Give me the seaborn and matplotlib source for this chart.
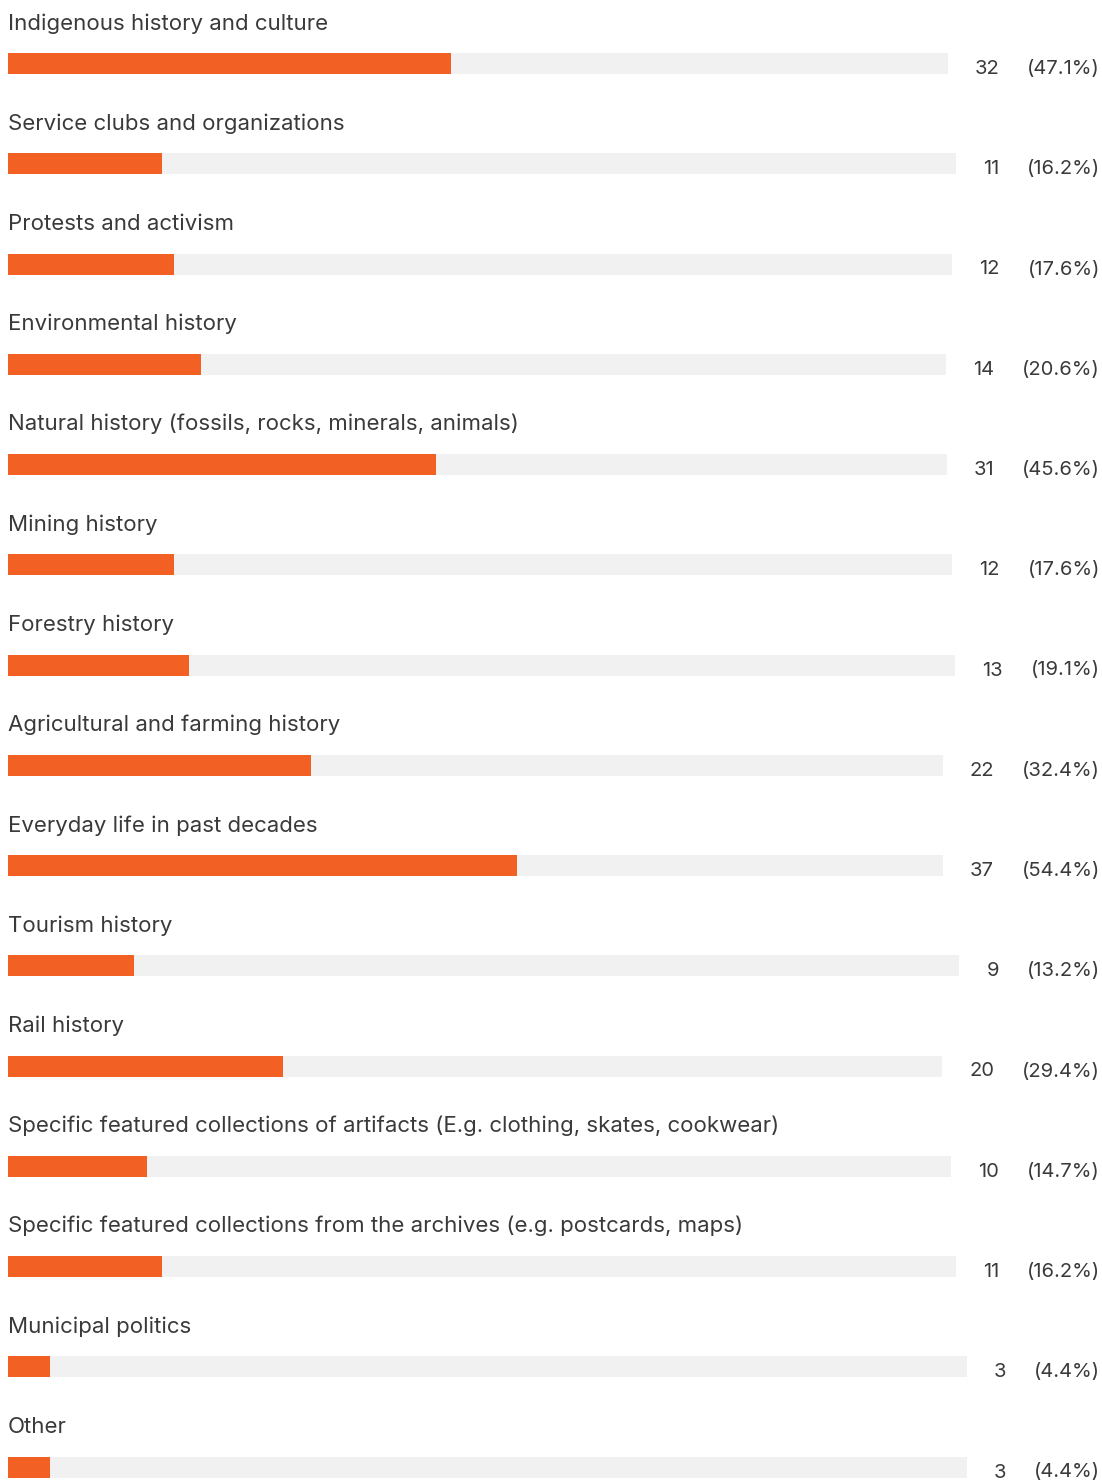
import matplotlib
matplotlib.use("Agg")
import matplotlib.pyplot as plt
import seaborn as sns
import pandas as pd
import numpy as np

categories = [
    "Indigenous history and culture",
    "Service clubs and organizations",
    "Protests and activism",
    "Environmental history",
    "Natural history (fossils, rocks, minerals, animals)",
    "Mining history",
    "Forestry history",
    "Agricultural and farming history",
    "Everyday life in past decades",
    "Tourism history",
    "Rail history",
    "Specific featured collections of artifacts (E.g. clothing, skates, cookwear)",
    "Specific featured collections from the archives (e.g. postcards, maps)",
    "Municipal politics",
    "Other",
]
counts = [32, 11, 12, 14, 31, 12, 13, 22, 37, 9, 20, 10, 11, 3, 3]
percents = [47.1, 16.2, 17.6, 20.6, 45.6, 17.6, 19.1, 32.4, 54.4, 13.2, 29.4, 14.7, 16.2, 4.4, 4.4]

BAR_COLOR = "#F26024"
TRACK_COLOR = "#F1F1F1"
TEXT_COLOR = "#3A3A3A"
FONT = ["Inter", "DejaVu Sans"]

sns.set_theme(style="white")
plt.rcParams["font.family"] = FONT

W, H = 1102, 1480
fig = plt.figure(figsize=(W / 100, H / 100), dpi=100)
ax = fig.add_axes([0, 0, 1, 1])
ax.set_axis_off()

LEFT = 8            # px where bars start
ROW0 = 63.5         # px centre of first bar
STEP = 100.25       # px between rows
n = len(categories)
ax.set_xlim(-LEFT, W - LEFT)
ax.set_ylim(n - 1 + (H - (ROW0 + STEP * (n - 1))) / STEP, -ROW0 / STEP)

fs_label = 16
fs_num = 14.5
fig.canvas.draw()
renderer = fig.canvas.get_renderer()
inv = ax.transData.inverted()

track_ends = []
for i, (c, p) in enumerate(zip(counts, percents)):
    ty = i + 10.5 / STEP
    tp = ax.text(W - LEFT - 2, ty, f"({p}%)", ha="right", va="baseline",
                 fontsize=fs_num, color=TEXT_COLOR)
    bb = tp.get_window_extent(renderer)
    pct_left = inv.transform((bb.x0, 0))[0]
    tc = ax.text(pct_left - 28, ty, f"{c}", ha="right", va="baseline",
                 fontsize=fs_num, color=TEXT_COLOR)
    bb2 = tc.get_window_extent(renderer)
    cnt_left = inv.transform((bb2.x0, 0))[0]
    track_ends.append(cnt_left - 27)
    ax.text(0, i - 34 / STEP, categories[i], ha="left", va="baseline",
            fontsize=fs_label, color=TEXT_COLOR)

df = pd.DataFrame({
    "category": categories,
    "track": track_ends,
    "value": [p / 100 * t for p, t in zip(percents, track_ends)],
})

sns.barplot(data=df, x="track", y="category", orient="h", color=TRACK_COLOR,
            width=21 / STEP, ax=ax, saturation=1, linewidth=0)
sns.barplot(data=df, x="value", y="category", orient="h", color=BAR_COLOR,
            width=21 / STEP, ax=ax, saturation=1, linewidth=0)
ax.set_xlim(-LEFT, W - LEFT)
ax.set_ylim(n - 1 + (H - (ROW0 + STEP * (n - 1))) / STEP, -ROW0 / STEP)
ax.set_axis_off()

fig.savefig("out.png", dpi=100)
